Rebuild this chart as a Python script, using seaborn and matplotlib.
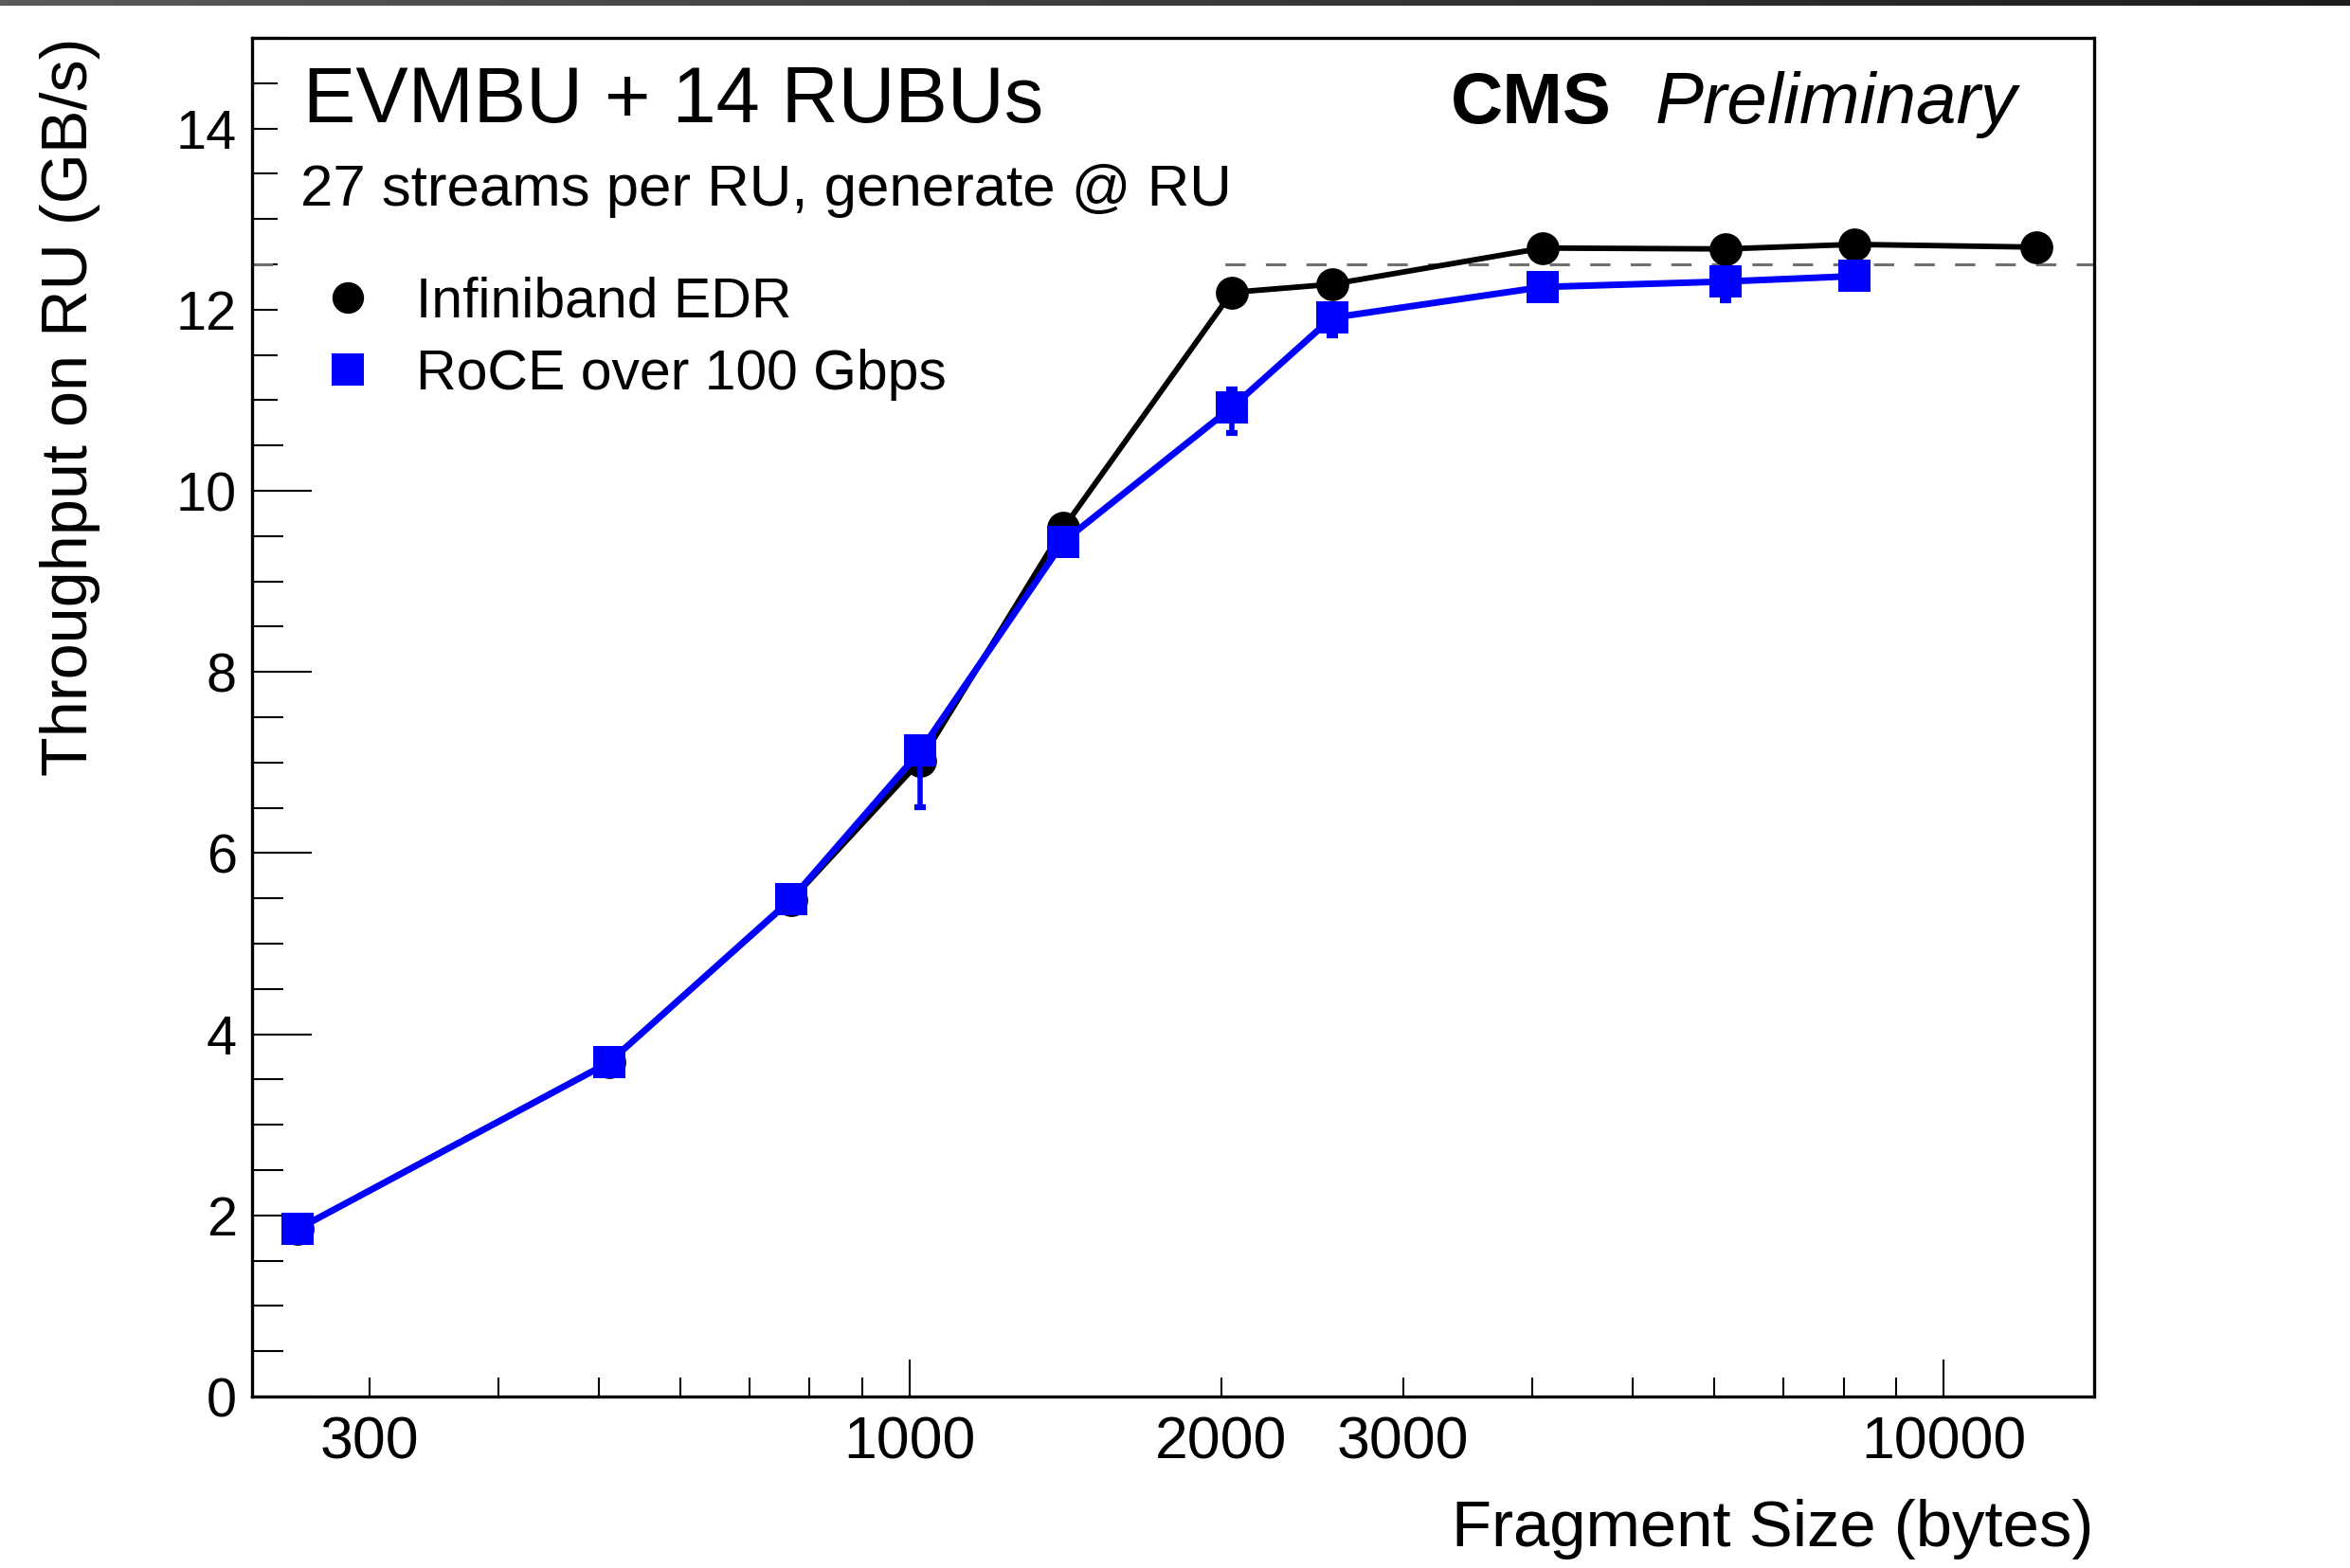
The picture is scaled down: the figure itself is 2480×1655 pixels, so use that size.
import numpy as np
import pandas as pd
import matplotlib
matplotlib.use("Agg")
import matplotlib.pyplot as plt
import seaborn as sns
from matplotlib.lines import Line2D
from matplotlib.patches import Rectangle

# ---------------- data ----------------
ib_size = [256, 512, 768, 1024, 1408, 2048, 2560, 4096, 6144, 8192, 12288]
ib_thr = [1.85, 3.69, 5.48, 7.02, 9.59, 12.19, 12.28, 12.68, 12.67, 12.72, 12.69]

roce_size = [256, 512, 768, 1024, 1408, 2048, 2560, 4096, 6144, 8192]
roce_thr = [1.85, 3.69, 5.49, 7.13, 9.44, 10.92, 11.91, 12.25, 12.31, 12.37]
roce_err_lo = [0, 0, 0, 0.62, 0.05, 0.28, 0.19, 0, 0.21, 0]
roce_err_hi = [0, 0, 0, 0, 0, 0.20, 0, 0, 0, 0]

line_level = 12.5

series_names = ["Infiniband EDR", "RoCE over 100 Gbps"]
x_major = [1000, 10000]
x_major_labels = ["1000", "10000"]
x_minor = [300, 400, 500, 600, 700, 800, 900, 2000, 3000, 4000, 5000, 6000, 7000, 8000, 9000]
x_minor_labels = ["300", "", "", "", "", "", "", "2000", "3000", "", "", "", "", "", ""]
y_major = [0, 2, 4, 6, 8, 10, 12, 14]

df_ib = pd.DataFrame({"size": ib_size, "thr": ib_thr})
df_roce = pd.DataFrame({"size": roce_size, "thr": roce_thr})

# ---------------- style ----------------
sns.set_theme(style="ticks")
plt.rcParams["font.family"] = ["Liberation Sans", "DejaVu Sans"]
plt.rcParams["text.color"] = "black"
plt.rcParams["axes.labelcolor"] = "black"
plt.rcParams["xtick.color"] = "black"
plt.rcParams["ytick.color"] = "black"

W, H = 2480, 1655
fig = plt.figure(figsize=(W / 100, H / 100), dpi=100)
fig.patch.set_facecolor("white")

ax_l, ax_r, ax_t, ax_b = 265.7, 2209.5, 40.0, 1474.0
ax = fig.add_axes([ax_l / W, (H - ax_b) / H, (ax_r - ax_l) / W, (ax_b - ax_t) / H])
ax.set_facecolor("white")

BLUE = "#0000ff"

# reference line (partly hidden by the white text pave, as in the original)
ax.axhline(line_level, color="#707070", lw=2.2, dashes=(7, 7), zorder=1.6)
ax.add_patch(Rectangle((0.0138, 0.7165), 0.5264 - 0.0138, 0.2835, transform=ax.transAxes,
                       facecolor="white", edgecolor="none", zorder=1.8))

sns.lineplot(data=df_ib, x="size", y="thr", ax=ax, color="black", lw=4.2,
             marker="o", markersize=25, markeredgewidth=0, markeredgecolor="black",
             errorbar=None, zorder=3)
ax.errorbar(roce_size, roce_thr, yerr=[roce_err_lo, roce_err_hi], fmt="none",
            ecolor=BLUE, elinewidth=4, capsize=4, capthick=4.5, zorder=3.5)
sns.lineplot(data=df_roce, x="size", y="thr", ax=ax, color=BLUE, lw=5,
             marker="s", markersize=25, markeredgewidth=0, markeredgecolor=BLUE,
             errorbar=None, zorder=4)

ax.set_xscale("log")
ax.set_xlim(231, 13960)
ax.set_ylim(0, 15)

ax.set_xticks(x_major, labels=x_major_labels)
ax.set_xticks(x_minor, labels=x_minor_labels, minor=True)
ax.set_yticks(y_major, labels=[str(v) for v in y_major])
ax.set_yticks(np.arange(0, 15.01, 0.5), minor=True)
ax.yaxis.set_minor_formatter(matplotlib.ticker.NullFormatter())

ax.tick_params(axis="y", which="major", direction="in", length=45, width=1.5,
               labelsize=41.5, pad=11.3, right=False, left=True, colors="black")
ax.tick_params(axis="y", which="minor", direction="in", length=24, width=1.5,
               right=False, left=True, colors="black")
ax.tick_params(axis="x", which="major", direction="in", length=28, width=1.5,
               labelsize=45, pad=13.7, top=False, bottom=True, colors="black")
ax.tick_params(axis="x", which="minor", direction="in", length=14.5, width=1.5,
               labelsize=45, pad=13.7, top=False, bottom=True, colors="black")

for s in ax.spines.values():
    s.set_visible(True)
    s.set_color("black")
    s.set_linewidth(2.4)
    s.set_zorder(5)

ax.set_xlabel("Fragment Size (bytes)", fontsize=49.6, loc="right", color="black")
ax.xaxis.set_label_coords(1.0, -0.0753)
ax.set_ylabel("Throughput on RU (GB/s)", fontsize=49.2, loc="top", color="black")
ax.yaxis.set_label_coords(-0.0822, 1.0)

# texts
def fx(px):
    return px / W

def fy(py):
    return 1 - py / H

fig.text(fx(320), fy(129.5), "EVMBU + 14 RUBUs", fontsize=59.8, ha="left", va="baseline", color="black")
fig.text(fx(317), fy(217), "27 streams per RU, generate @ RU", fontsize=44.5, ha="left", va="baseline", color="black")
fig.text(fx(1531), fy(130), "CMS", fontsize=55, fontweight="bold", ha="left", va="baseline", color="black")
fig.text(fx(1747), fy(130), "Preliminary", fontsize=55, fontstyle="italic", ha="left", va="baseline", color="black")

handles = [
    Line2D([], [], color="black", marker="o", markersize=24, markeredgewidth=0, linestyle="none"),
    Line2D([], [], color=BLUE, marker="s", markersize=24, markeredgewidth=0, linestyle="none"),
]
leg = fig.legend(handles, series_names, loc="center left", bbox_to_anchor=(fx(337.5), fy(357.5)),
                 frameon=False, fontsize=42.4, handlelength=1.0, handletextpad=0.72,
                 labelspacing=0.36, borderpad=0, borderaxespad=0)
for t in leg.get_texts():
    t.set_color("black")

# dark gradient strip at the very top
bar = fig.add_axes([0, 1 - 6 / H, 1, 6 / H])
bar.imshow(np.linspace(0, 1, 256)[None, :], aspect="auto",
           cmap=matplotlib.colors.LinearSegmentedColormap.from_list("g", ["#5a5a5a", "#1c1c1c"]))
bar.set_axis_off()

fig.savefig("out.png", dpi=100)
